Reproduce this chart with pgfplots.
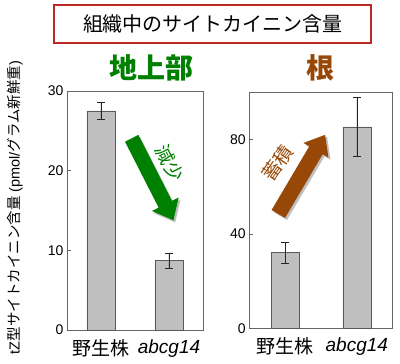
\documentclass[border=0pt]{standalone}
\usepackage{fontspec}
\setmainfont{Liberation Sans}
\newfontfamily\cjk{Noto Sans CJK JP}
\usepackage{pgfplots}
\pgfplotsset{compat=1.18}
\definecolor{tgreen}{RGB}{0,128,0}
\definecolor{tbrown}{RGB}{152,72,6}
\definecolor{tred}{RGB}{192,40,40}
\definecolor{barfill}{RGB}{191,191,191}
\definecolor{barline}{RGB}{90,90,90}
\pgfplotsset{
  myax/.style={
    scale only axis,
    anchor=south west,
    xmin=-0.5, xmax=1.5,
    ymin=0,
    xtick={0,1},
    xticklabels={{\cjk 野生株},{\itshape abcg14}},
    x tick label style={font=\fontsize{19}{19}\selectfont, yshift=-2pt},
    y tick label style={font=\fontsize{14}{14}\selectfont},
    /pgf/number format/assume math mode=true,
    tick align=inside,
    major tick length=4pt,
    tick style={black!60, line width=0.5pt},
    xtick style={draw=none},
    axis line style={black!60, line width=0.6pt},
    ytick pos=left,
    ybar, bar width=28pt,
    clip=false,
  },
  mybar/.style={
    fill=barfill, draw=barline, line width=0.6pt,
    error bars/.cd, y dir=both, y explicit,
    error bar style={black!85, line width=0.6pt},
    error mark options={black!85, line width=0.6pt, mark size=4pt, rotate=90},
  }
}
\begin{document}
\begin{tikzpicture}[x=1pt,y=1pt]
\useasboundingbox (0,0) rectangle (400,364);
% title box
\draw[tred, line width=1.3pt] (54,321) rectangle (371,359);
\node at (213,340) {\cjk\fontsize{20}{20}\selectfont 組織中のサイトカイニン含量};
% panel titles
\node[text=tgreen] at (152,296) {\cjk\bfseries\fontsize{28}{28}\selectfont 地上部};
\node[text=tbrown] at (320,296) {\cjk\bfseries\fontsize{28}{28}\selectfont 根};
% y label
\node[rotate=90] at (15,156.5) {\fontsize{14.5}{14.5}\selectfont tZ{\cjk 型サイトカイニン含量} (pmol/{\cjk グラム新鮮重})};

\begin{axis}[myax, at={(67pt,34pt)}, width=136pt, height=239pt, ymax=30, ytick={0,10,20,30}]
\addplot[mybar] coordinates {(0,27.5) +- (0,1.1) (1,8.7) +- (0,0.9)};
\end{axis}

\begin{axis}[myax, at={(249.3pt,35.7pt)}, width=143.4pt, height=236pt, ymax=100, ytick={0,40,80}]
\addplot[mybar] coordinates {(0,32.0) +- (0,4.6) (1,85.3) +- (0,12.6)};
\end{axis}

% green arrow
\begin{scope}[shift={(133.5,223.5)}, rotate=-63]
\fill[black, opacity=0.25] (0,-7.5) -- (74,-7.5) -- (74,-15) -- (92,0) -- (74,15) -- (74,7.5) -- (0,7.5) -- cycle;
\end{scope}
\begin{scope}[shift={(131.7,225.7)}, rotate=-63]
\fill[tgreen] (0,-7.5) -- (74,-7.5) -- (74,-15) -- (92,0) -- (74,15) -- (74,7.5) -- (0,7.5) -- cycle;
\end{scope}
\node[rotate=-63, text=tgreen] at (170,201) {\cjk\fontsize{19}{19}\selectfont 減少};
% brown arrow
\begin{scope}[shift={(280.3,148)}, rotate=59.4]
\fill[black, opacity=0.25] (0,-7.8) -- (74,-7.8) -- (74,-14.5) -- (92,0) -- (74,14.5) -- (74,7.8) -- (0,7.8) -- cycle;
\end{scope}
\begin{scope}[shift={(278.3,150)}, rotate=59.4]
\fill[tbrown] (0,-7.8) -- (74,-7.8) -- (74,-14.5) -- (92,0) -- (74,14.5) -- (74,7.8) -- (0,7.8) -- cycle;
\end{scope}
\node[rotate=55, text=tbrown] at (278,201) {\cjk\fontsize{19}{19}\selectfont 蓄積};
\end{tikzpicture}
\end{document}
